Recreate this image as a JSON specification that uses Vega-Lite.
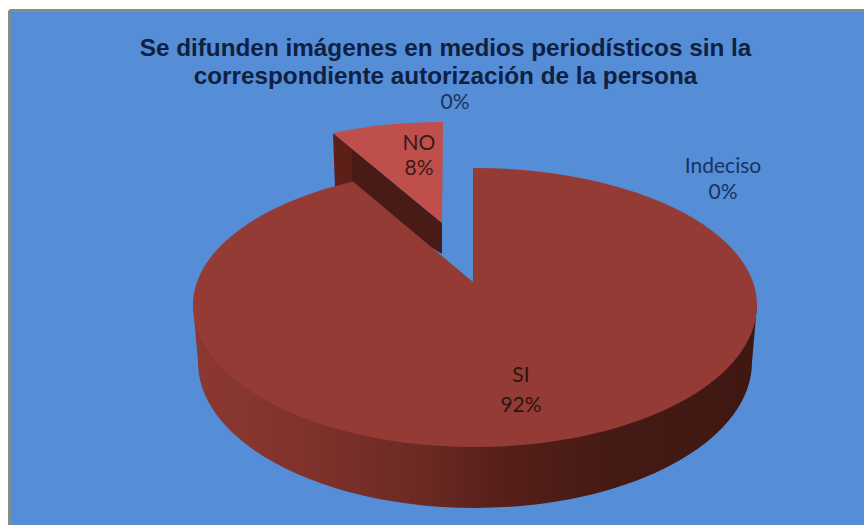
{
"$schema":"https://vega.github.io/schema/vega-lite/v6.json",
"width":855,"height":515,
"autosize":{"type":"none"},
"padding":{"left":9,"top":10,"right":0,"bottom":0},
"background":"#ffffff",
"title":{"text":["Se difunden imágenes en medios periodísticos sin la","correspondiente autorización de la persona"],"font":"Liberation Sans","fontSize":24.3,"fontWeight":"bold","color":"#0f2040","anchor":"middle","lineHeight":28,"dx":9,"dy":79,"offset":0},
"config":{"view":{"fill":"#558dd6","stroke":null},"axis":{"domainColor":"#7e8f8c","domainWidth":3,"ticks":false,"labels":false,"grid":false,"title":null}},
"data":{"values":[
{"category":"SI","value":92,"label":"SI\n92%"},
{"category":"NO","value":8,"label":"NO\n8%"},
{"category":"Indeciso","value":0,"label":"Indeciso\n0%"},
{"category":"Sin nombre","value":0,"label":"0%"}
]},
"layer":[
{"transform":[{"filter":"datum.category==='SI'"}],
 "mark":{"type":"point","filled":true,"opacity":1,"size":4,"strokeWidth":0,"shape":"M282,0 L277,57 A277 146 0 0 1 -277,57 L-282,0 Z",
  "fill":{"gradient":"linear","x1":0,"y1":0,"x2":1,"y2":0,"stops":[{"offset":0,"color":"#8c3832"},{"offset":0.2,"color":"#80322c"},{"offset":0.4,"color":"#6c2a24"},{"offset":0.55,"color":"#561f19"},{"offset":0.75,"color":"#451a14"},{"offset":1,"color":"#3f1712"}]}},
 "encoding":{
  "x":{"datum":475,"type":"quantitative","scale":{"domain":[9,864],"nice":false,"zero":false},"axis":{"orient":"top"}},
  "y":{"datum":305,"type":"quantitative","scale":{"domain":[10,525],"nice":false,"zero":false,"reverse":true},"axis":{"orient":"left"}}}},
{"transform":[{"filter":"datum.category==='NO'"}],
 "mark":{"type":"point","filled":true,"opacity":1,"size":4,"strokeWidth":0,"shape":"M-142,-172 L-33,-82 L-33,-51 L-140,-117 Z",
  "fill":{"gradient":"linear","x1":0,"y1":0,"x2":1,"y2":0,"stops":[{"offset":0,"color":"#5c2019"},{"offset":0.17,"color":"#5c2019"},{"offset":0.18,"color":"#481b16"},{"offset":1,"color":"#481b16"}]}},
 "encoding":{
  "x":{"datum":475,"type":"quantitative"},
  "y":{"datum":305,"type":"quantitative"}}},
{"transform":[{"filter":"datum.value>0"}],
 "mark":{"type":"point","filled":true,"opacity":1,"size":4,"strokeWidth":0},
 "encoding":{
  "x":{"datum":475,"type":"quantitative"},
  "y":{"datum":305,"type":"quantitative"},
  "shape":{"field":"category","type":"nominal","legend":null,"scale":{"domain":["SI","NO"],"range":["M-2,-137 A282 137 0 0 1 282,0 A282 142 0 0 1 -282,0 A282 137 0 0 1 -122,-123.5 L-2,-23 Z","M-142,-172 A282 137 0 0 1 -32,-183 L-33,-82 Z"]}},
  "color":{"field":"category","type":"nominal","legend":null,"scale":{"domain":["SI","NO"],"range":["#953b36","#bf4f4a"]}}}},
{"transform":[{"filter":"datum.category==='SI'"}],
 "mark":{"type":"text","font":"Lato","fontSize":21,"lineBreak":"\n","lineHeight":30,"color":"#2e1410"},
 "encoding":{"text":{"field":"label"},"x":{"datum":521,"type":"quantitative"},"y":{"datum":376,"type":"quantitative"}}},
{"transform":[{"filter":"datum.category==='NO'"}],
 "mark":{"type":"text","font":"Lato","fontSize":21,"lineBreak":"\n","lineHeight":25,"color":"#3a1a1c"},
 "encoding":{"text":{"field":"label"},"x":{"datum":419,"type":"quantitative"},"y":{"datum":144,"type":"quantitative"}}},
{"transform":[{"filter":"datum.category==='Indeciso'"}],
 "mark":{"type":"text","font":"Lato","fontSize":21,"lineBreak":"\n","lineHeight":26,"color":"#17335f"},
 "encoding":{"text":{"field":"label"},"x":{"datum":723,"type":"quantitative"},"y":{"datum":167,"type":"quantitative"}}},
{"transform":[{"filter":"datum.category==='Sin nombre'"}],
 "mark":{"type":"text","font":"Lato","fontSize":21,"color":"#17335f"},
 "encoding":{"text":{"field":"label"},"x":{"datum":455,"type":"quantitative"},"y":{"datum":103,"type":"quantitative"}}}
]
}
